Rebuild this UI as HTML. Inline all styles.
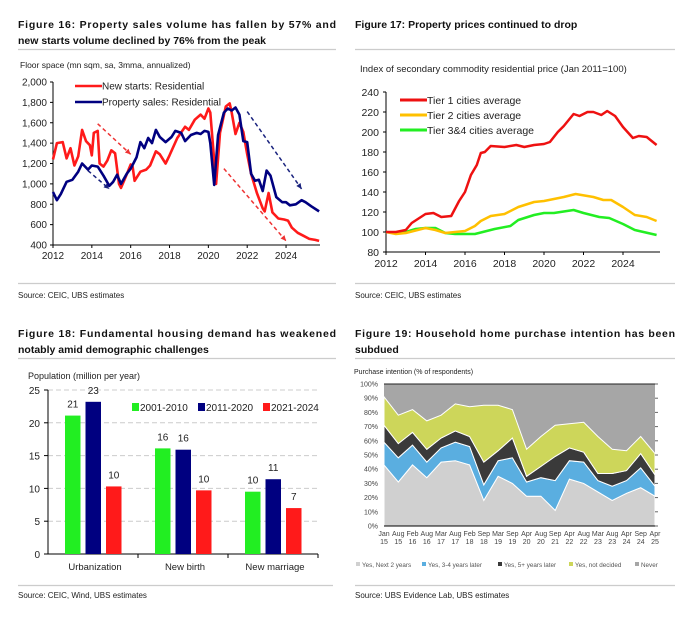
<!DOCTYPE html>
<html><head><meta charset="utf-8"><style>
html,body{margin:0;padding:0;background:#fff}
svg{display:block;font-family:"Liberation Sans",sans-serif}
</style></head><body>
<svg id="s" width="688" height="620" viewBox="0 0 688 620" xmlns="http://www.w3.org/2000/svg">
<g font-weight="bold" font-size="10.5" fill="#111">
<text x="18" y="28" textLength="318" lengthAdjust="spacing">Figure 16: Property sales volume has fallen by 57% and</text>
<text x="18" y="44">new starts volume declined by 76% from the peak</text>
<text x="355" y="28">Figure 17: Property prices continued to drop</text>
<text x="18" y="337" textLength="318" lengthAdjust="spacing">Figure 18: Fundamental housing demand has weakened</text>
<text x="18" y="353">notably amid demographic challenges</text>
<text x="355" y="337" textLength="320" lengthAdjust="spacing">Figure 19: Household home purchase intention has been</text>
<text x="355" y="353">subdued</text>
</g>
<g stroke="#ccc" stroke-width="1.2">
<line x1="18" y1="49.5" x2="336" y2="49.5"/>
<line x1="355" y1="49.5" x2="675" y2="49.5"/>
<line x1="18" y1="283.5" x2="336" y2="283.5"/>
<line x1="355" y1="283.5" x2="675" y2="283.5"/>
<line x1="18" y1="358.5" x2="336" y2="358.5"/>
<line x1="355" y1="358.5" x2="675" y2="358.5"/>
<line x1="18" y1="585.5" x2="333" y2="585.5"/>
<line x1="355" y1="585.5" x2="675" y2="585.5"/>
</g>
<g font-size="8" fill="#222">
<text x="18" y="298">Source: CEIC, UBS estimates</text>
<text x="355" y="298">Source: CEIC, UBS estimates</text>
<text x="18" y="598">Source: CEIC, Wind, UBS estimates</text>
<text x="355" y="598">Source: UBS Evidence Lab, UBS estimates</text>
</g>
<g id="p1"></g><g id="p2"></g><g id="p3"></g><g id="p4"></g>
</svg>
<script>
// ---------- Fig 16 data ----------
const f16StartsX=[2012.0,2012.2,2012.5,2012.7,2012.9,2013.1,2013.3,2013.5,2013.7,2013.9,2014.0,2014.1,2014.3,2014.4,2014.6,2014.8,2015.0,2015.2,2015.4,2015.5,2015.7,2016.0,2016.1,2016.2,2016.5,2016.8,2017.0,2017.3,2017.5,2017.8,2018.0,2018.4,2018.8,2019.0,2019.3,2019.6,2019.8,2020.0,2020.1,2020.4,2020.6,2020.9,2021.1,2021.2,2021.4,2021.6,2021.8,2022.0,2022.2,2022.5,2022.8,2022.9,2023.1,2023.3,2023.6,2023.9,2024.1,2024.3,2024.6,2024.9,2025.2,2025.5,2025.7];
const f16StartsY=[1240,1400,1410,1250,1350,1180,1270,1530,1420,1380,1280,1500,1520,1200,1170,1230,1330,1300,1000,960,1050,1190,1170,1030,1120,1140,1180,1320,1290,1200,1280,1450,1560,1530,1630,1680,1640,1740,1700,1000,1500,1760,1790,1700,1490,1600,1510,1290,1100,910,760,730,910,720,660,650,640,570,520,490,460,450,440];
const f16SalesX=[2012.0,2012.2,2012.4,2012.7,2013.0,2013.3,2013.5,2013.8,2014.0,2014.3,2014.6,2014.9,2015.1,2015.3,2015.5,2015.8,2016.0,2016.3,2016.5,2016.7,2016.9,2017.1,2017.3,2017.5,2017.8,2018.1,2018.3,2018.6,2018.8,2019.1,2019.4,2019.6,2019.8,2020.0,2020.1,2020.3,2020.5,2020.8,2021.0,2021.2,2021.4,2021.6,2021.8,2022.0,2022.2,2022.4,2022.6,2022.8,2023.0,2023.2,2023.5,2023.8,2024.0,2024.2,2024.5,2024.8,2025.0,2025.3,2025.7];
const f16SalesY=[920,840,900,1020,1040,1120,1200,1140,1180,1170,1080,980,1020,1090,1000,1100,1150,1260,1410,1350,1450,1400,1530,1460,1410,1460,1520,1500,1420,1480,1500,1490,1520,1510,1400,990,1480,1700,1740,1720,1750,1680,1420,1410,1100,1030,1040,930,1130,1080,870,820,820,790,800,840,820,780,730];
const f16Ticks=[400,600,800,1000,1200,1400,1600,1800,2000];
const f16TickLabels=["400","600","800","1,000","1,200","1,400","1,600","1,800","2,000"];
const f16Years=[2012,2014,2016,2018,2020,2022,2024];
// ---------- Fig 17 data ----------
const f17T1X=[2012,2012.5,2013,2013.3,2014,2014.4,2014.8,2015.3,2015.7,2016,2016.3,2016.6,2016.8,2017,2017.3,2018,2018.6,2019,2019.5,2020,2020.3,2020.7,2021,2021.5,2021.8,2022.2,2022.5,2022.9,2023.2,2023.6,2024,2024.5,2024.8,2025.2,2025.7];
const f17T1Y=[100,100,102,109,118,119,115,116,131,140,157,167,179,180,186,185,187,185,187,188,190,200,206,218,216,220,220,217,221,216,205,194,196,195,187];
const f17T2X=[2012,2012.5,2013,2014,2014.5,2015,2016,2016.5,2016.8,2017.3,2018,2018.7,2019.5,2020,2021,2021.6,2022.5,2023,2023.4,2024,2024.6,2025.2,2025.7];
const f17T2Y=[100,98,99,104,102,99,101,106,111,116,118,125,130,131,135,138,135,132,132,125,117,115,111];
const f17T3X=[2012,2012.5,2013,2013.5,2014,2014.5,2015,2015.5,2016.5,2017.5,2018.3,2018.7,2019.5,2020,2020.5,2021.5,2022,2022.8,2023.3,2024,2024.6,2025.7];
const f17T3Y=[100,99,100,103,104,104,99,98,98,103,106,112,117,119,119,122,119,115,114,108,102,97];
const f17Ticks=[80,100,120,140,160,180,200,220,240];
// ---------- Fig 18 data ----------
const f18Cats=["Urbanization","New birth","New marriage"];
const f18Series=["2001-2010","2011-2020","2021-2024"];
const f18S1=[21.1,16.1,9.5];
const f18S2=[23.2,15.9,11.4];
const f18S3=[10.3,9.7,7.0];
const f18Labels1=["21","16","10"];
const f18Labels2=["23","16","11"];
const f18Labels3=["10","10","7"];
const f18Ticks=[0,5,10,15,20,25];
// ---------- Fig 19 data ----------
const f19Cats=[["Jan","15"],["Aug","15"],["Feb","16"],["Aug","16"],["Mar","17"],["Aug","17"],["Feb","18"],["Sep","18"],["Mar","19"],["Sep","19"],["Apr","20"],["Aug","20"],["Sep","21"],["Apr","22"],["Aug","22"],["Mar","23"],["Aug","23"],["Apr","24"],["Sep","24"],["Apr","25"]];
const f19Next2=[43,31,43,34,45,46,43,18,35,30,21,21,11,33,30,24,18,23,27,21];
const f19Y34=[16,17,14,11,10,13,13,11,11,18,10,13,21,13,15,8,10,9,14,7];
const f19Y5=[12,10,9,9,7,8,7,16,7,14,4,8,17,9,7,5,9,7,10,8];
const f19Undecided=[20,20,16,20,16,19,21,40,32,20,19,21,22,17,21,26,17,14,12,15];
const f19Ticks=[0,10,20,30,40,50,60,70,80,90,100];

const NS="http://www.w3.org/2000/svg";
function mk(parent,tag,attrs,text){const e=document.createElementNS(NS,tag);for(const k in attrs)e.setAttribute(k,attrs[k]);if(text!==undefined)e.textContent=text;parent.appendChild(e);return e;}
function pts(xs,ys,fx,fy){return xs.map((x,i)=>fx(x).toFixed(1)+","+fy(ys[i]).toFixed(1)).join(" ");}

// ===== Fig 16 =====
(function(){
const g=document.getElementById('p1');
const x=v=>53+(v-2012)*19.42, y=v=>245-(v-400)*(163/1600);
let t=mk(g,'text',{x:20,y:68,'font-size':8.5,fill:'#222'},'Floor space (mn sqm, sa, 3mma, annualized)');

f16Ticks.forEach((v,i)=>{let l=mk(g,'text',{x:47,y:y(v)+3.5,'font-size':10,'text-anchor':'end',fill:'#222'},f16TickLabels[i]);

mk(g,'line',{x1:50,x2:53,y1:y(v),y2:y(v),stroke:'#000'});});
f16Years.forEach(v=>{let l=mk(g,'text',{x:x(v),y:259,'font-size':10,'text-anchor':'middle',fill:'#222'},String(v));

mk(g,'line',{x1:x(v),x2:x(v),y1:245,y2:248,stroke:'#000'});});
mk(g,'line',{x1:53,x2:53,y1:y(2000),y2:245,stroke:'#000'});
mk(g,'line',{x1:53,x2:320,y1:245,y2:245,stroke:'#000'});
const arrows=[[2014.3,1590,2016.0,1290,'#e33'],[2020.8,1150,2024.0,440,'#e33'],[2013.8,1130,2014.9,950,'#1a237e'],[2022.0,1710,2024.8,950,'#1a237e']];
arrows.forEach(a=>{const x1=x(a[0]),y1=y(a[1]),x2=x(a[2]),y2=y(a[3]);
let ln=mk(g,'line',{x1,y1,x2,y2,stroke:a[4],'stroke-width':1.5,'stroke-dasharray':'4,3'});

const ang=Math.atan2(y2-y1,x2-x1),s=6;
mk(g,'polygon',{points:`${x2},${y2} ${x2-s*Math.cos(ang-0.45)},${y2-s*Math.sin(ang-0.45)} ${x2-s*Math.cos(ang+0.45)},${y2-s*Math.sin(ang+0.45)}`,fill:a[4]});});
let p=mk(g,'polyline',{points:pts(f16StartsX,f16StartsY,x,y),fill:'none',stroke:'#ff1a1a','stroke-width':2.6,'stroke-linejoin':'round'});

p=mk(g,'polyline',{points:pts(f16SalesX,f16SalesY,x,y),fill:'none',stroke:'#000080','stroke-width':2.6,'stroke-linejoin':'round'});

[['New starts: Residential','#ff1a1a',86],['Property sales: Residential','#000080',102]].forEach(e=>{
mk(g,'line',{x1:75,x2:102,y1:e[2],y2:e[2],stroke:e[1],'stroke-width':2.5});
let l=mk(g,'text',{x:102,y:e[2]+3.5,'font-size':10,fill:'#222'},e[0]);
});
})();

// ===== Fig 17 =====
(function(){
const g=document.getElementById('p2');
const x=v=>386+(v-2012)*19.75, y=v=>252-(v-80)*1.0;
let t=mk(g,'text',{x:360,y:72,'font-size':9.5,fill:'#222'},'Index of secondary commodity residential price (Jan 2011=100)');

f17Ticks.forEach(v=>{let l=mk(g,'text',{x:379,y:y(v)+4,'font-size':10.5,'text-anchor':'end',fill:'#222'},String(v));

mk(g,'line',{x1:383,x2:386,y1:y(v),y2:y(v),stroke:'#000'});});
f16Years.forEach(v=>{let l=mk(g,'text',{x:x(v),y:267,'font-size':10.5,'text-anchor':'middle',fill:'#222'},String(v));

mk(g,'line',{x1:x(v),x2:x(v),y1:252,y2:255,stroke:'#000'});});
mk(g,'line',{x1:386,x2:386,y1:y(240),y2:252,stroke:'#000'});
mk(g,'line',{x1:386,x2:660,y1:252,y2:252,stroke:'#000'});
[[f17T3X,f17T3Y,'#22ee22','tier34-line'],[f17T2X,f17T2Y,'#ffc000','tier2-line'],[f17T1X,f17T1Y,'#ee1111','tier1-line']].forEach(s=>{
let p=mk(g,'polyline',{points:pts(s[0],s[1],x,y),fill:'none',stroke:s[2],'stroke-width':2.5,'stroke-linejoin':'round'});
});
[['Tier 1 cities average','#ee1111',100],['Tier 2 cities average','#ffc000',115],['Tier 3&4 cities average','#22ee22',130]].forEach(e=>{
mk(g,'line',{x1:400,x2:427,y1:e[2],y2:e[2],stroke:e[1],'stroke-width':3});
let l=mk(g,'text',{x:427,y:e[2]+4,'font-size':10.5,fill:'#222'},e[0]);
});
})();

// ===== Fig 18 =====
(function(){
const g=document.getElementById('p3');
const y=v=>554-v*(164/25);
let t=mk(g,'text',{x:28,y:379,'font-size':9,fill:'#222'},'Population (million per year)');

f18Ticks.forEach(v=>{if(v>0)mk(g,'line',{x1:48,x2:318,y1:y(v),y2:y(v),stroke:'#ccc','stroke-dasharray':'5,3'});
let l=mk(g,'text',{x:40,y:y(v)+4,'font-size':10,'text-anchor':'end',fill:'#222'},String(v));

mk(g,'line',{x1:44,x2:48,y1:y(v),y2:y(v),stroke:'#000'});});
mk(g,'line',{x1:48,x2:48,y1:y(25),y2:554,stroke:'#000'});
mk(g,'line',{x1:48,x2:318,y1:554,y2:554,stroke:'#000'});
const colors=['#22ee22','#000080','#ff1a1a'];
const vals=[f18S1,f18S2,f18S3], labs=[f18Labels1,f18Labels2,f18Labels3];
const gw=90;
f18Cats.forEach((c,i)=>{const cx=48+gw*(i+0.5);
mk(g,'line',{x1:48+gw*(i+1),x2:48+gw*(i+1),y1:554,y2:558,stroke:'#000'});
let l=mk(g,'text',{x:cx+2,y:570,'font-size':9.5,'text-anchor':'middle',fill:'#222'},c);

for(let s=0;s<3;s++){const bx=cx-28+s*20.5,v=vals[s][i];
let r=mk(g,'rect',{x:bx,y:y(v),width:15.5,height:554-y(v),fill:colors[s]});

let vl=mk(g,'text',{x:bx+7.75,y:y(v)-8,'font-size':10,'text-anchor':'middle',fill:'#222'},labs[s][i]);
}});
[[132,0],[198,1],[263,2]].forEach(e=>{mk(g,'rect',{x:e[0],y:403,width:7,height:8,fill:colors[e[1]]});
let l=mk(g,'text',{x:e[0]+8,y:411,'font-size':10,fill:'#222'},f18Series[e[1]]);
});
})();

// ===== Fig 19 =====
(function(){
const g=document.getElementById('p4');
const n=f19Cats.length, x=i=>384+i*(271/(n-1)), y=v=>526-v*1.42;
let t=mk(g,'text',{x:354,y:374,'font-size':7,fill:'#222'},'Purchase intention (% of respondents)');

mk(g,'rect',{x:384,y:y(100),width:271,height:142,fill:'#a6a6a6'});
const layers=[f19Next2,f19Y34,f19Y5,f19Undecided];
const fills=['#d0d0d0','#5aaee0','#3a3a3a','#cdd65a'];
const names=['area-next-2-years','area-3-4-years-later','area-5-plus-years-later','area-not-decided'];
let base=new Array(n).fill(0);
layers.forEach((L,k)=>{const top=base.map((b,i)=>b+L[i]);
let d='M'+top.map((v,i)=>x(i).toFixed(1)+','+y(v).toFixed(1)).join('L');
for(let i=n-1;i>=0;i--)d+='L'+x(i).toFixed(1)+','+y(base[i]).toFixed(1);
let p=mk(g,'path',{d:d+'Z',fill:fills[k],stroke:'#fff','stroke-width':1});

base=top;});
mk(g,'line',{x1:384,x2:655,y1:y(100),y2:y(100),stroke:'#222','stroke-width':1});
mk(g,'line',{x1:384,x2:655,y1:526,y2:526,stroke:'#000','stroke-width':1});
f19Ticks.forEach(v=>{let l=mk(g,'text',{x:378,y:y(v)+2.5,'font-size':7,'text-anchor':'end',fill:'#444'},v+'%');

mk(g,'line',{x1:655,x2:658,y1:y(v),y2:y(v),stroke:'#666'});});
f19Cats.forEach((c,i)=>{let l=mk(g,'text',{x:x(i),y:536,'font-size':7,'text-anchor':'middle',fill:'#444'},c[0]);

let l2=mk(g,'text',{x:x(i),y:544,'font-size':7,'text-anchor':'middle',fill:'#444'},c[1]);
});
[['Yes, Next 2 years','#d0d0d0',356],['Yes, 3-4 years later','#5aaee0',422],['Yes, 5+ years later','#3a3a3a',498],['Yes,  not decided','#cdd65a',569],['Never','#a6a6a6',635]].forEach(e=>{
mk(g,'rect',{x:e[2],y:562,width:4,height:4,fill:e[1]});
let l=mk(g,'text',{x:e[2]+6,y:567,'font-size':6.3,fill:'#555'},e[0]);
});
})();
</script>
</body></html>
